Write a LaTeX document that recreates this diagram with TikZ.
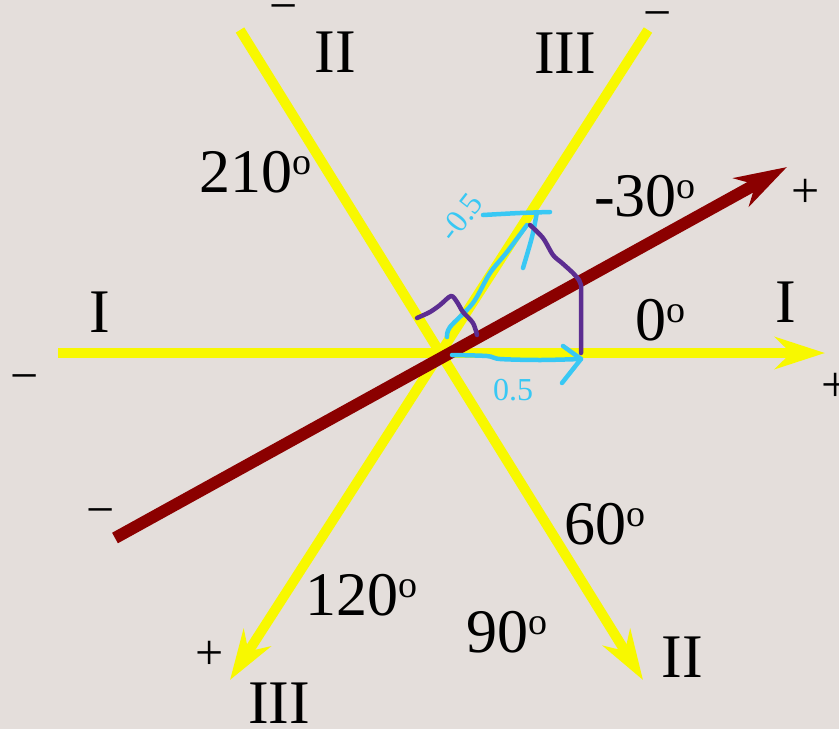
\documentclass[tikz,border=0pt]{standalone}
\usepackage{fontspec}
\setmainfont{Liberation Serif}
\usetikzlibrary{arrows.meta}
\definecolor{bg}{HTML}{E4DEDB}
\definecolor{ylw}{HTML}{F8F800}
\definecolor{dred}{HTML}{8B0000}
\definecolor{cyanpen}{HTML}{38C8F4}
\definecolor{purplepen}{HTML}{5C2D91}
\newcommand{\degsup}{\raisebox{18pt}{\fontsize{38}{38}\selectfont o}}
\tikzset{
  axisline/.style={draw=ylw, line width=10pt},
  axisarrow/.style={axisline, -{Stealth[length=50pt,width=32pt,inset=16pt]}},
  redarrow/.style={draw=dred, line width=12pt, -{Stealth[length=52pt,width=32pt,inset=16pt]}},
  biglabel/.style={inner sep=0pt, font=\fontsize{62}{62}\selectfont},
  signlabel/.style={inner sep=0pt, font=\fontsize{50}{50}\selectfont},
  bluetext/.style={inner sep=0pt, text=cyanpen, font=\fontsize{32}{32}\selectfont},
  bluepen/.style={draw=cyanpen, line width=4.5pt, line cap=round, line join=round},
  purplepenline/.style={draw=purplepen, line width=4.5pt, line cap=round, line join=round},
}
\begin{document}
\begin{tikzpicture}[x=1pt,y=-1pt]
\fill[bg] (0,0) rectangle (839,729);
\useasboundingbox (0,0) rectangle (839,729);
% end points
\coordinate (Ia) at (58,353);
\coordinate (Ib) at (825,353);
\coordinate (IIa) at (240,30);
\coordinate (IIb) at (643,680);
\coordinate (IIIa) at (648,30);
\coordinate (IIIb) at (230,680);
\coordinate (Ra) at (115,538);
\coordinate (Rb) at (787,167);
% yellow axes
\draw[axisarrow] (IIa) -- (IIb);
\draw[axisarrow] (IIIa) -- (IIIb);
\draw[axisarrow] (Ia) -- (Ib);
% red arrow
\draw[redarrow] (Ra) -- (Rb);
% blue annotations
\draw[bluepen] plot[smooth] coordinates {(452,355) (487,356) (500,359) (540,360) (581,359)};
\draw[bluepen] (563,346) -- (581,359) -- (562,383);
\draw[bluepen] plot[smooth] coordinates {(447,337) (450,327) (473,303) (490,273) (507,252) (527,225)};
\draw[bluepen] plot[smooth] coordinates {(483,215) (520,213) (550,212)};
\draw[bluepen] plot[smooth] coordinates {(537,212) (532,237) (523,268)};
% purple annotations
\draw[purplepenline] plot[smooth] coordinates {(417,318) (430,312) (440,305) (451,296) (457,302) (463,312) (473,323) (477,335)};
\draw[purplepenline] plot[smooth] coordinates {(530,225) (543,238) (553,255) (562,263) (573,273) (579,280)};
\draw[purplepenline] (579,280) -- (581,285) -- (581,353);
% labels
\node[biglabel] (lII) at (335,52) {II};
\node[biglabel] (lIII) at (565,53) {III};
\node[biglabel] (l210) at (255,172) {210\degsup};
\node[biglabel] (lm30) at (645,196) {-30\degsup};
\node[biglabel] (lIl) at (100,312) {I};
\node[biglabel] (lIr) at (786,302) {I};
\node[biglabel] (l0) at (660,320) {0\degsup};
\node[biglabel] (l60) at (605,524) {60\degsup};
\node[biglabel] (l120) at (361,595) {120\degsup};
\node[biglabel] (l90) at (507,632) {90\degsup};
\node[biglabel] (lIIIb) at (279,703) {III};
\node[biglabel] (lIIb) at (682,657) {II};
\node[signlabel] (s1) at (284,14) {−};
\node[signlabel] (s2) at (658,21) {−};
\node[signlabel] (s3) at (806,193) {+};
\node[signlabel] (s4) at (836,387) {+};
\node[signlabel] (s5) at (25,384) {−};
\node[signlabel] (s6) at (101,518) {−};
\node[signlabel] (s7) at (210,655) {+};
\node[bluetext] (b1) at (513,390) {0.5};
\node[bluetext, rotate=52] (b2) at (461,217) {-0.5};
\end{tikzpicture}
\end{document}
